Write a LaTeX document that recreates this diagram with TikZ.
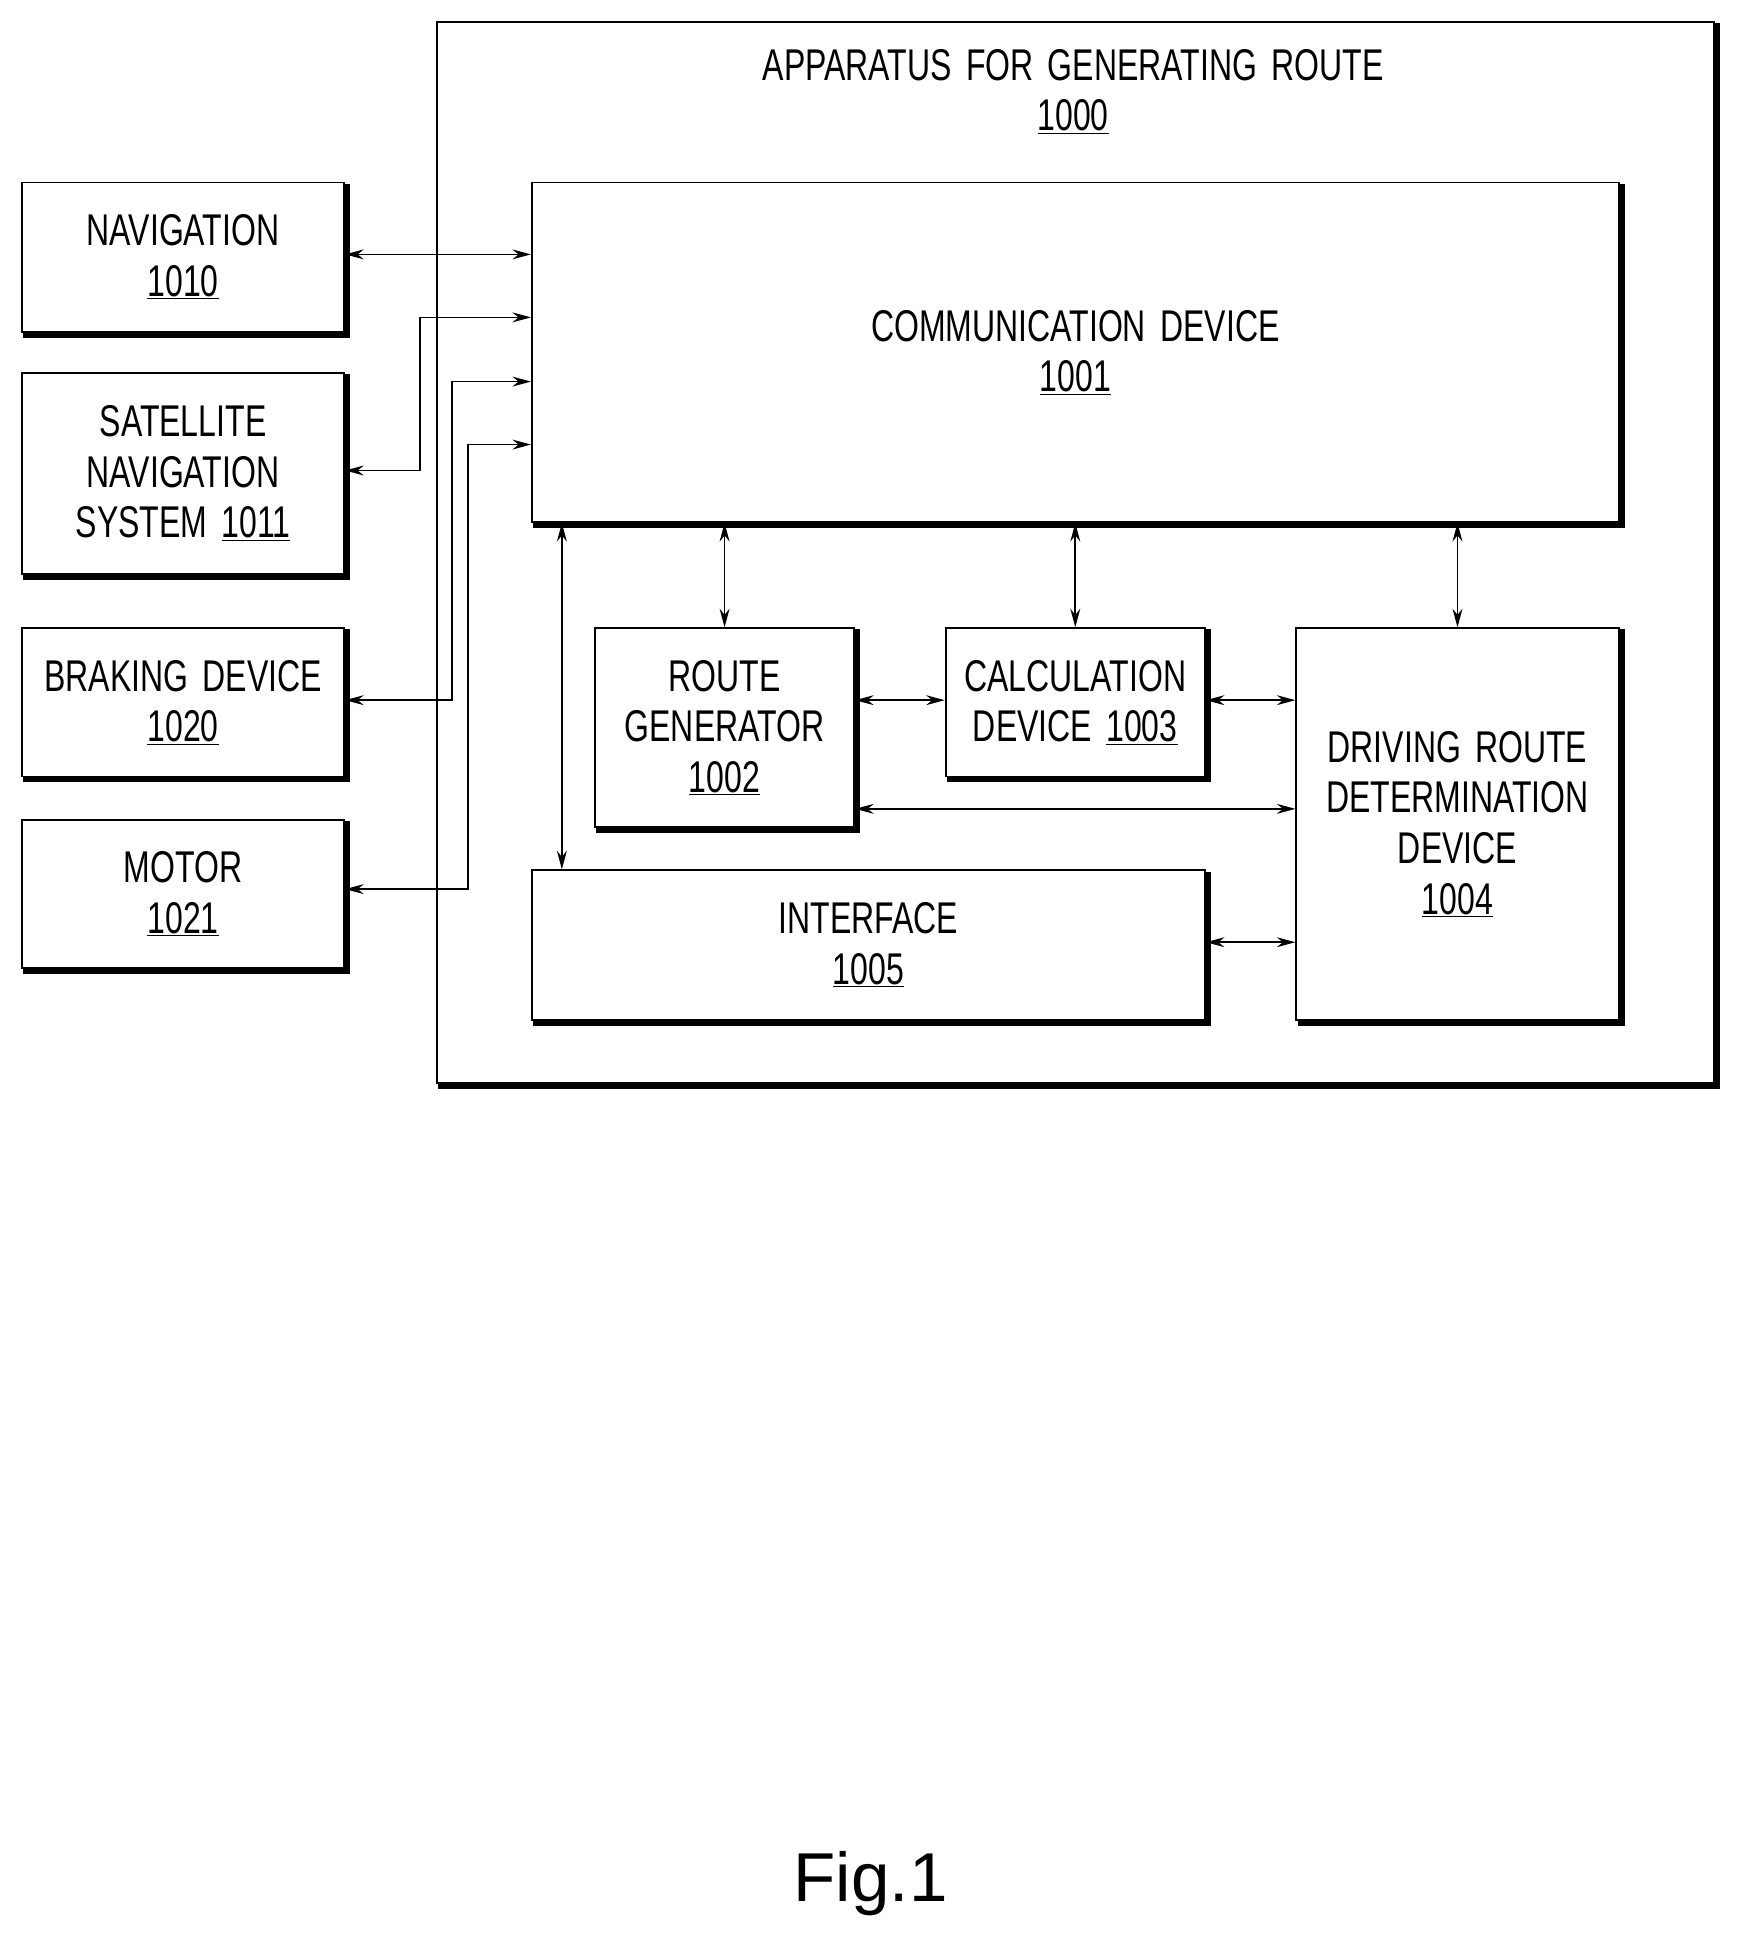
\documentclass[tikz,border=0pt]{standalone}
\usepackage{fontspec}
\setmainfont[FakeStretch=0.72,WordSpace=1.6]{Liberation Sans}
\newfontfamily\figfont{Liberation Sans}
\usetikzlibrary{arrows.meta}
\begin{document}
\begin{tikzpicture}[x=1pt,y=-1pt,
  box/.style={draw,line width=1.5pt,anchor=north west,inner sep=0pt,align=center,font=\fontsize{36}{41}\selectfont},
  lbl/.style={align=center,font=\fontsize{36}{41}\selectfont},
  con/.style={line width=1.3pt,{Stealth[length=15pt,width=8pt]}-{Stealth[length=15pt,width=8pt]}},
  shd/.style={line width=4.5pt,line cap=rect}]
\useasboundingbox (0,0) rectangle (1410,1571);
\def\bx#1#2#3#4#5#6{\node[box,minimum width=#4-#2,minimum height=#5-#3] (#1) at (#2,#3) {#6};
  \draw[shd] ([xshift=1.8pt,yshift=-4pt]#1.north east) -- ([xshift=1.8pt,yshift=-1.8pt]#1.south east) -- ([xshift=4pt,yshift=-1.8pt]#1.south west);}
\bx{outer}{353}{17}{1387}{876}{}
\node[lbl] (title) at (869,74) {APPARATUS FOR GENERATING ROUTE\\\underline{1000}};
\bx{comm}{430}{147}{1310}{422}{COMMUNICATION DEVICE\\\underline{1001}}
\bx{nav}{17}{147}{278}{268}{NAVIGATION\\\underline{1010}}
\bx{sat}{17}{301}{278}{464}{SATELLITE\\NAVIGATION\\SYSTEM \underline{1011}}
\bx{brk}{17}{508}{278}{628}{BRAKING DEVICE\\\underline{1020}}
\bx{mot}{17}{663}{278}{783}{MOTOR\\\underline{1021}}
\bx{rg}{481}{508}{691}{669}{ROUTE\\GENERATOR\\\underline{1002}}
\bx{calc}{765}{508}{975}{628}{CALCULATION\\DEVICE \underline{1003}}
\bx{drv}{1049}{508}{1310}{825}{DRIVING ROUTE\\DETERMINATION\\DEVICE\\\underline{1004}}
\bx{intf}{430}{704}{975}{825}{INTERFACE\\\underline{1005}}
\draw[con] (nav.east |- 0,206) -- (comm.west |- 0,206);
\draw[con] (sat.east |- 0,381) -- (340,381) -- (340,257) -- (comm.west |- 0,257);
\draw[con] (brk.east |- 0,567) -- (366,567) -- (366,309) -- (comm.west |- 0,309);
\draw[con] (mot.east |- 0,720) -- (379,720) -- (379,360) -- (comm.west |- 0,360);
\draw[con] (comm.south -| 455,0) -- (intf.north -| 455,0);
\draw[con] (comm.south -| rg.north) -- (rg.north);
\draw[con] (comm.south -| calc.north) -- (calc.north);
\draw[con] (comm.south -| drv.north) -- (drv.north);
\draw[con] (rg.east |- 0,567) -- (calc.west |- 0,567);
\draw[con] (calc.east |- 0,567) -- (drv.west |- 0,567);
\draw[con] (rg.east |- 0,655) -- (drv.west |- 0,655);
\draw[con] (intf.east |- 0,763) -- (drv.west |- 0,763);
\node[font=\figfont\fontsize{56}{60}\selectfont] (fig) at (705,1525) {Fig.1};
\end{tikzpicture}
\end{document}
